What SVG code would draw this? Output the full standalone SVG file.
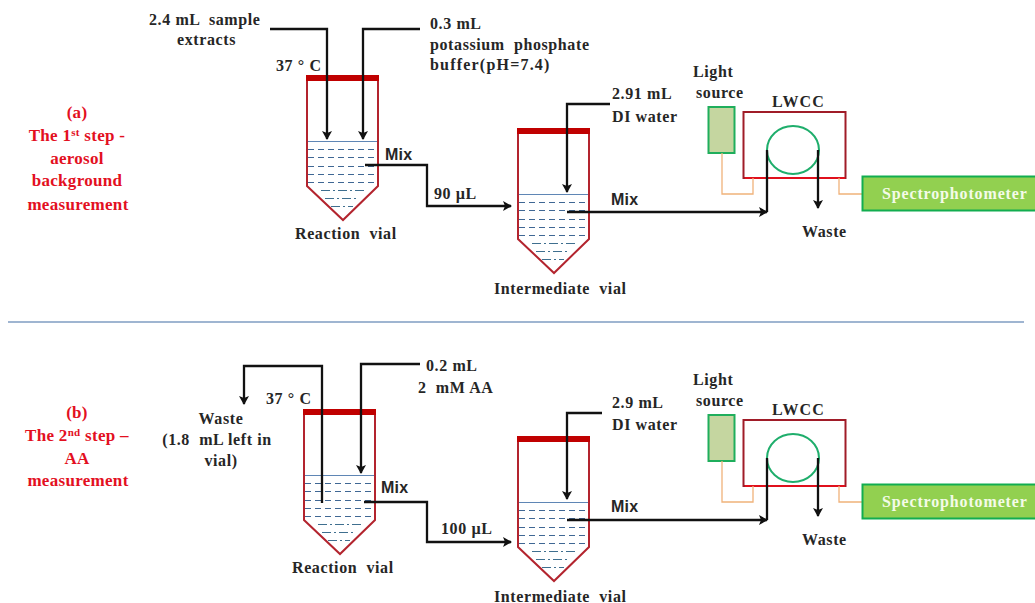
<svg xmlns="http://www.w3.org/2000/svg" width="1035" height="603" viewBox="0 0 1035 603">
<style>
text{font-family:"Liberation Serif","Times New Roman",serif;font-weight:bold;font-size:16px;letter-spacing:.6px;fill:#262626;white-space:pre}
.c{text-anchor:middle}
.r{fill:#e3101f;font-size:17px;letter-spacing:.3px}
.s{font-family:"Liberation Sans",Arial,sans-serif;font-size:16px;letter-spacing:.2px}
.body{fill:none;stroke:#b3242e;stroke-width:2}
.cap{fill:#c00000}
.top{stroke:#5f86b5;stroke-width:1}
.d{stroke:#3f6794;stroke-width:1;stroke-dasharray:6 4}
.dd{stroke:#3f6f8f;stroke-width:1;stroke-dasharray:9 3 2 3}
.w{fill:none;stroke:#111;stroke-width:2.300}
.o{fill:none;stroke:#f0b27a;stroke-width:1.300}
.ls{fill:#c5d6a0;stroke:#1fae5c;stroke-width:2}
.lw{fill:#fff;stroke:#a01c28;stroke-width:2}
.coil{fill:none;stroke:#1fae6c;stroke-width:2}
.sp{fill:#92d050;stroke:#12ad50;stroke-width:2}
.sp-t{fill:#f4fbe8;letter-spacing:.85px}
.sep{stroke:#7f9cc2;stroke-width:1.600}
</style>
<defs>
<marker id="a" markerWidth="12" markerHeight="12" refX="8" refY="5" orient="auto" markerUnits="userSpaceOnUse"><path d="M0 0L9 5L0 10L2 5Z" fill="#111"/></marker>
<g id="vial">
<path class="body" d="M0 0V106L36 140L71 106V0"/>
<rect class="cap" x="-1" y="-5" width="73" height="6"/>
<path class="top" d="M1 61.500H70"/>
<path class="d" d="M1 69.500H70M1 77.500H70M1 86.500H70M1 94.500H70M1 102.500H70"/>
<path class="dd" d="M14 110.500H58M18 118.500H52M24 126.500H46"/>
</g>
<g id="inst">
<rect class="ls" x="708.500" y="107" width="26" height="46"/>
<rect class="lw" x="743.500" y="112" width="102" height="66"/>
<path d="M745 178H845" stroke="#e0101c" stroke-width="2"/>
<ellipse class="coil" cx="793" cy="150" rx="26" ry="24"/>
<path class="o" d="M722 153V194H753V178M839 178V194H862"/>
<rect class="sp" x="862.500" y="176.500" width="174" height="34"/>
<text class="sp-t" x="882" y="199">Spectrophotometer</text>
<text x="693" y="77">Light</text>
<text x="696" y="98">source</text>
<text x="772" y="107" style="letter-spacing:1.200px">LWCC</text>
<text x="802" y="237">Waste</text>
<path class="w" marker-end="url(#a)" d="M818 150V208"/>
</g>
</defs>
<g id="label-a">
<text class="r c" x="77" y="118">(a)</text>
<text class="r c" x="77" y="141">The 1<tspan font-size="11" dy="-5">st</tspan><tspan dy="5"> step -</tspan></text>
<text class="r c" x="77" y="164">aerosol</text>
<text class="r c" x="77" y="186">background</text>
<text class="r c" x="78" y="210">measurement</text>
</g>
<g id="label-b">
<text class="r c" x="77" y="418">(b)</text>
<text class="r c" x="77" y="441">The 2<tspan font-size="11" dy="-5">nd</tspan><tspan dy="5"> step –</tspan></text>
<text class="r c" x="77" y="464">AA</text>
<text class="r c" x="78" y="486">measurement</text>
</g>
<line id="separator" class="sep" x1="8" y1="322" x2="1024" y2="322"/>
<g id="reaction-vial-a">
<use href="#vial" x="307" y="80"/>
<text x="276" y="71">37 ° C</text>
<text x="295" y="239">Reaction  vial</text>
</g>
<g id="intermediate-vial-a">
<use href="#vial" x="518" y="133"/>
<text x="494" y="294">Intermediate  vial</text>
</g>
<g id="instruments-a"><use href="#inst"/></g>
<g id="reaction-vial-b">
<use href="#vial" x="304" y="414"/>
<text x="266" y="404">37 ° C</text>
<text x="292" y="573">Reaction  vial</text>
</g>
<g id="intermediate-vial-b">
<use href="#vial" x="518" y="441"/>
<text x="494" y="602">Intermediate  vial</text>
</g>
<g id="instruments-b"><use href="#inst" y="308"/></g>
<g id="labels">
<text x="149" y="25">2.4 mL  sample</text>
<text x="177" y="45">extracts</text>
<text x="430" y="29">0.3 mL</text>
<text x="430" y="50">potassium  phosphate</text>
<text x="430" y="70" style="letter-spacing:1.200px">buffer(pH=7.4)</text>
<text x="612" y="99">2.91 mL</text>
<text x="612" y="122">DI water</text>
<text class="s" x="385" y="160">Mix</text>
<text x="434" y="199">90 µL</text>
<text class="s" x="611" y="205">Mix</text>
<text x="426" y="371">0.2 mL</text>
<text x="418" y="393">2  mM AA</text>
<text class="c" x="221" y="424">Waste</text>
<text class="c" x="217" y="445">(1.8  mL left in</text>
<text class="c" x="221" y="466">vial)</text>
<text class="s" x="381" y="493">Mix</text>
<text x="441" y="534">100 µL</text>
<text x="612" y="408">2.9 mL</text>
<text x="612" y="430">DI water</text>
<text class="s" x="611" y="512">Mix</text>
</g>
<g id="connectors">
<path class="w" marker-end="url(#a)" d="M270 29H327V139"/>
<path class="w" marker-end="url(#a)" d="M420 29H363V139"/>
<path class="w" marker-end="url(#a)" d="M365 165H427V206H511"/>
<path class="w" marker-end="url(#a)" d="M610 104H567V192"/>
<path class="w" marker-end="url(#a)" d="M567 212H767"/>
<path class="w" d="M767 212V150"/>
<path class="w" marker-end="url(#a)" d="M322 503V366H244V404"/>
<path class="w" marker-end="url(#a)" d="M420 364H361V473"/>
<path class="w" marker-end="url(#a)" d="M364 502H427V542H511"/>
<path class="w" marker-end="url(#a)" d="M602 413H567V499"/>
<path class="w" marker-end="url(#a)" d="M567 520H767"/>
<path class="w" d="M767 520V458"/>
</g>
</svg>
